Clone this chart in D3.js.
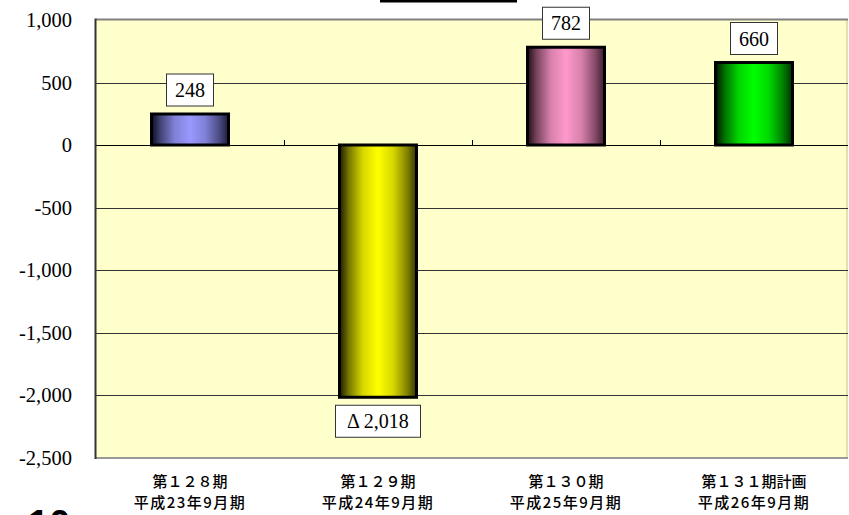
<!DOCTYPE html>
<html><head><meta charset="utf-8">
<script src="https://cdn.jsdelivr.net/npm/d3@7"></script>
<style>html,body{margin:0;padding:0;background:#fff;}svg{display:block;}</style>
</head><body>
<script>
const categoriesLine1 = ["第１２８期", "第１２９期", "第１３０期", "第１３１期計画"];
const categoriesLine2 = ["平成23年9月期", "平成24年9月期", "平成25年9月期", "平成26年9月期"];
const values = [248, -2018, 782, 660];
const valueLabels = ["248", "\u0394 2,018", "782", "660"];
const barColors = ["#9999ff", "#ffff00", "#ff99cc", "#00ff00"];
const barDark = ["#0c0c20", "#1a1a00", "#200c16", "#001400"];
const yTicks = [1000, 500, 0, -500, -1000, -1500, -2000, -2500];

(function () {
const W = 849, H = 515;
const svg = d3.select("body").append("svg").attr("width", W).attr("height", H);
const pLeft = 96, pRight = 848, pTop = 20, pBottom = 457.5;

const x = d3.scaleBand().domain(d3.range(values.length)).range([pLeft, pRight]).padding(0);
const y = d3.scaleLinear().domain([-2500, 1000]).range([pBottom, pTop]);

// gradients
const defs = svg.append("defs");
const stops = [[0, 0], [0.12, 0.4], [0.3, 0.82], [0.5, 1], [0.7, 0.82], [0.88, 0.45], [1, 0.12]];
values.forEach((v, i) => {
  const g = defs.append("linearGradient").attr("id", "g" + i).attr("x1", "0").attr("x2", "1").attr("y1", "0").attr("y2", "0");
  const mix = d3.interpolateRgb(barDark[i], barColors[i]);
  stops.forEach(s => g.append("stop").attr("offset", s[0]).attr("stop-color", mix(s[1])));
});

// top title box edge (cut off)
svg.append("line").attr("x1", 380).attr("x2", 517).attr("y1", 1).attr("y2", 1)
  .attr("stroke", "#000").attr("stroke-width", 3);

// plot area
svg.append("rect").attr("x", pLeft).attr("y", pTop).attr("width", pRight - pLeft).attr("height", pBottom - pTop)
  .attr("fill", "#ffffcc");
svg.append("line").attr("x1", pRight - 1).attr("x2", pRight - 1).attr("y1", pTop).attr("y2", pBottom)
  .attr("stroke", "#e0e0b0").attr("stroke-width", 2);

// gridlines
yTicks.filter(t => t !== 1000 && t !== -2500).forEach(t => {
  svg.append("line").attr("x1", pLeft).attr("x2", pRight).attr("y1", Math.round(y(t)) + 0.5).attr("y2", Math.round(y(t)) + 0.5)
    .attr("stroke", t === 0 ? "#000" : "#333").attr("stroke-width", 1.2);
});
// borders
svg.append("line").attr("x1", pLeft).attr("x2", pRight).attr("y1", pTop - 0.5).attr("y2", pTop - 0.5)
  .attr("stroke", "#808080").attr("stroke-width", 2);
svg.append("line").attr("x1", pLeft).attr("x2", pRight).attr("y1", pBottom + 0.5).attr("y2", pBottom + 0.5)
  .attr("stroke", "#999").attr("stroke-width", 2);
svg.append("line").attr("x1", pLeft - 0.5).attr("x2", pLeft - 0.5).attr("y1", pTop - 1.5).attr("y2", pBottom + 1.5)
  .attr("stroke", "#333").attr("stroke-width", 2);

// category ticks on zero line
d3.range(1, values.length).forEach(i => {
  const xx = Math.round(x(i)) + 0.5;
  svg.append("line").attr("x1", xx).attr("x2", xx).attr("y1", y(0) - 5).attr("y2", y(0))
    .attr("stroke", "#000").attr("stroke-width", 1);
});

// y axis labels
const fmt = d3.format(",");
const yAxis = d3.axisLeft(y).tickValues(yTicks).tickSize(0).tickPadding(24)
  .tickFormat(d => fmt(d).replace("\u2212", "-"));
const ya = svg.append("g").attr("transform", `translate(${pLeft},0)`).call(yAxis);
ya.select(".domain").remove();
ya.selectAll("text").attr("font-family", "Liberation Serif, Times New Roman, serif")
  .attr("font-size", 20.5).attr("fill", "#000");

// bars
const bw = 77;
values.forEach((v, i) => {
  const cx = x(i) + x.bandwidth() / 2;
  svg.append("rect").attr("x", cx - bw / 2).attr("width", bw)
    .attr("y", Math.min(y(v), y(0))).attr("height", Math.abs(y(v) - y(0)))
    .attr("fill", `url(#g${i})`).attr("stroke", "#000").attr("stroke-width", 3);
});

// value labels
values.forEach((v, i) => {
  const cx = x(i) + x.bandwidth() / 2;
  const boxW = i === 1 ? 85 : 47, boxH = 32;
  const by = v >= 0 ? y(v) - 8 - boxH : y(v) + 8;
  svg.append("rect").attr("x", cx - boxW / 2).attr("y", by).attr("width", boxW).attr("height", boxH)
    .attr("fill", "#fff").attr("stroke", "#333").attr("stroke-width", 1);
  svg.append("text").attr("x", cx).attr("y", by + boxH / 2 + 7)
    .attr("text-anchor", "middle").attr("font-family", "Liberation Serif, Times New Roman, serif")
    .attr("font-size", 20).attr("fill", "#000").text(valueLabels[i]);
});

// category labels
values.forEach((v, i) => {
  const cx = x(i) + x.bandwidth() / 2;
  svg.append("text").attr("x", cx).attr("y", 487).attr("text-anchor", "middle")
    .attr("font-family", "Noto Sans CJK JP, sans-serif").attr("font-size", 15).attr("font-weight", 500)
    .attr("fill", "#000").text(categoriesLine1[i]);
  svg.append("text").attr("x", cx).attr("y", 508).attr("text-anchor", "middle")
    .attr("font-family", "Noto Sans CJK JP, sans-serif").attr("font-size", 15).attr("font-weight", 500)
    .attr("fill", "#000").attr("letter-spacing", 1.5)
    .text(categoriesLine2[i]);
});

// cut-off page number (partly outside the frame, as in the reference)
svg.append("text").attr("x", 28).attr("y", 537).attr("font-family", "Liberation Sans, Arial, sans-serif")
  .attr("font-weight", "bold").attr("font-size", 38).attr("fill", "#000").text("10");
})();
</script>
</body></html>
